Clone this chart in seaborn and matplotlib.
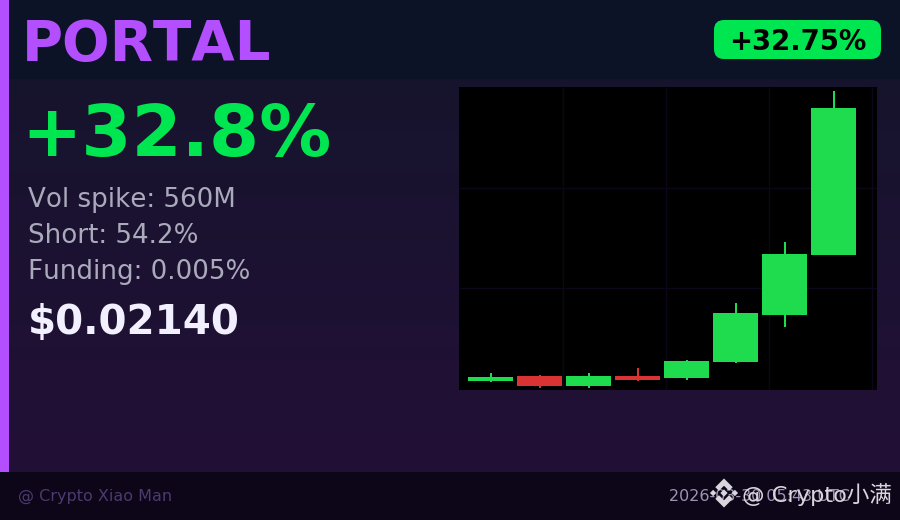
import numpy as np
import pandas as pd
import matplotlib
matplotlib.use("Agg")
import matplotlib.pyplot as plt
from matplotlib.patches import FancyBboxPatch, Rectangle, Polygon
import seaborn as sns

# ---- data ----
opens  = [0.016077, 0.016174, 0.015979, 0.016174, 0.016135, 0.016447, 0.017364, 0.018533]
closes = [0.016154, 0.015979, 0.016174, 0.016096, 0.016466, 0.017402, 0.018553, 0.021400]
highs  = [0.016233, 0.016194, 0.016233, 0.016330, 0.016486, 0.017597, 0.018787, 0.021730]
lows   = [0.016057, 0.015940, 0.015940, 0.016077, 0.016096, 0.016428, 0.017130, 0.018533]
candles = list(range(8))
price_grid = [0.019834, 0.017884]
time_grid = [1.486, 3.588, 5.690, 7.792]
symbol = "PORTAL"
badge = "+32.75%"
headline = "+32.8%"
stats = ["Vol spike: 560M", "Short: 54.2%", "Funding: 0.005%"]
price = "$0.02140"
credit = "@ Crypto Xiao Man"
stamp = "2026-03-30 05:43 UTC"
watermark = "@ Crypto小满"

W, H = 900, 520
sns.set_theme(style="dark")
plt.rcParams["font.family"] = ["DejaVu Sans", "Noto Sans CJK SC"]
plt.rcParams["text.kerning_factor"] = 10
fig = plt.figure(figsize=(W / 100, H / 100), dpi=100)

# page layer in pixel coordinates
bg = fig.add_axes([0, 0, 1, 1], zorder=0)
bg.axis("off")
c0 = np.array([0x14, 0x15, 0x2b]) / 255
c1 = np.array([0x24, 0x0f, 0x38]) / 255
t = np.linspace(0, 1, 256)[:, None, None]
grad = (1 - t) * c0[None, None, :] + t * c1[None, None, :]
bg.imshow(grad, extent=[0, W, H, 0], aspect="auto", zorder=0)
bg.set_xlim(0, W); bg.set_ylim(H, 0)
bg.add_patch(Rectangle((0, 0), W, 79, color="#0d1326", lw=0, zorder=1))
bg.add_patch(Rectangle((0, 472), W, 48, color="#0d0518", lw=0, zorder=1))
bg.add_patch(Rectangle((0, 0), 8.5, 472, color="#b44fff", lw=0, zorder=2))
bg.add_patch(FancyBboxPatch((714, 20), 167, 39, boxstyle="round,pad=0,rounding_size=10",
                            color="#00e650", lw=0, zorder=2))

px = 0.72
def label(x, y, s, size, color, weight="normal", ha="left", **kw):
    bg.text(x, y, s, fontsize=size * px, color=color, fontweight=weight, ha=ha,
            va="baseline", zorder=5, **kw)

label(22, 60, symbol, 56.2, "#b44fff", "bold")
label(797.5, 50, badge, 27.5, "#000000", "bold", ha="center")
label(21, 156, headline, 72, "#00e650", "bold")
for s, y in zip(stats, [207, 243, 279]):
    label(28, y, s, 26.1, "#aaaabc")
label(28, 334, price, 40.4, "#f2f0ff", "bold")
label(18, 501, credit, 16, "#4d3a6e")
label(850, 501, stamp, 16, "#9c94b0", ha="right")

# watermark logo and text
wm = "#d8d6dc"
cx, cy, r = 724, 493, 14.5
shapes = [
    [(0, -1), (.6, -.4), (.35, -.15), (0, -.5), (-.35, -.15), (-.6, -.4)],
    [(0, 1), (.6, .4), (.35, .15), (0, .5), (-.35, .15), (-.6, .4)],
    [(0, -.25), (.25, 0), (0, .25), (-.25, 0)],
    [(.75, -.22), (.97, 0), (.75, .22), (.53, 0)],
    [(-.75, -.22), (-.97, 0), (-.75, .22), (-.53, 0)],
]
for shape in shapes:
    bg.add_patch(Polygon([(cx + r * a, cy + r * b) for a, b in shape], closed=True,
                         color=wm, lw=0, zorder=6))
label(742, 502, watermark, 22.5, wm)

# candlestick chart
ax = fig.add_axes([459 / W, 1 - 390 / H, (877 - 459) / W, (390 - 87) / H], zorder=2)
ax.set_facecolor("#000000")
df = pd.DataFrame({
    "candle": candles,
    "low": np.minimum(opens, closes),
    "span": np.abs(np.array(closes) - np.array(opens)),
    "dir": ["up" if c >= o else "down" for o, c in zip(opens, closes)],
})
palette = {"up": "#1edc4e", "down": "#da3333"}
ax.vlines(time_grid, 0, 1, transform=ax.get_xaxis_transform(), color="#0c0618", lw=1, zorder=0)
ax.hlines(price_grid, 0, 1, transform=ax.get_yaxis_transform(), color="#0c0618", lw=1, zorder=0)
sns.barplot(data=df, x="candle", y="span", hue="dir", palette=palette, dodge=False,
            legend=False, ax=ax, width=0.918, saturation=1, zorder=3, linewidth=0)
for bar in ax.patches:
    i = int(round(bar.get_x() + bar.get_width() / 2))
    if bar.get_height() > 0:
        bar.set_y(df["low"].iloc[i])
ax.vlines([c + 0.012 for c in candles], lows, highs,
          colors=[palette[d] for d in df["dir"]], lw=1.44, zorder=4)
ax.set_xlim(-0.643, 7.888)
ax.set_ylim(0.015901, 0.02181)
ax.set_xlabel(""); ax.set_ylabel("")
ax.set_xticks([]); ax.set_yticks([])
for s in ax.spines.values():
    s.set_visible(False)

fig.savefig("out.png", dpi=100, facecolor="#14152b")
